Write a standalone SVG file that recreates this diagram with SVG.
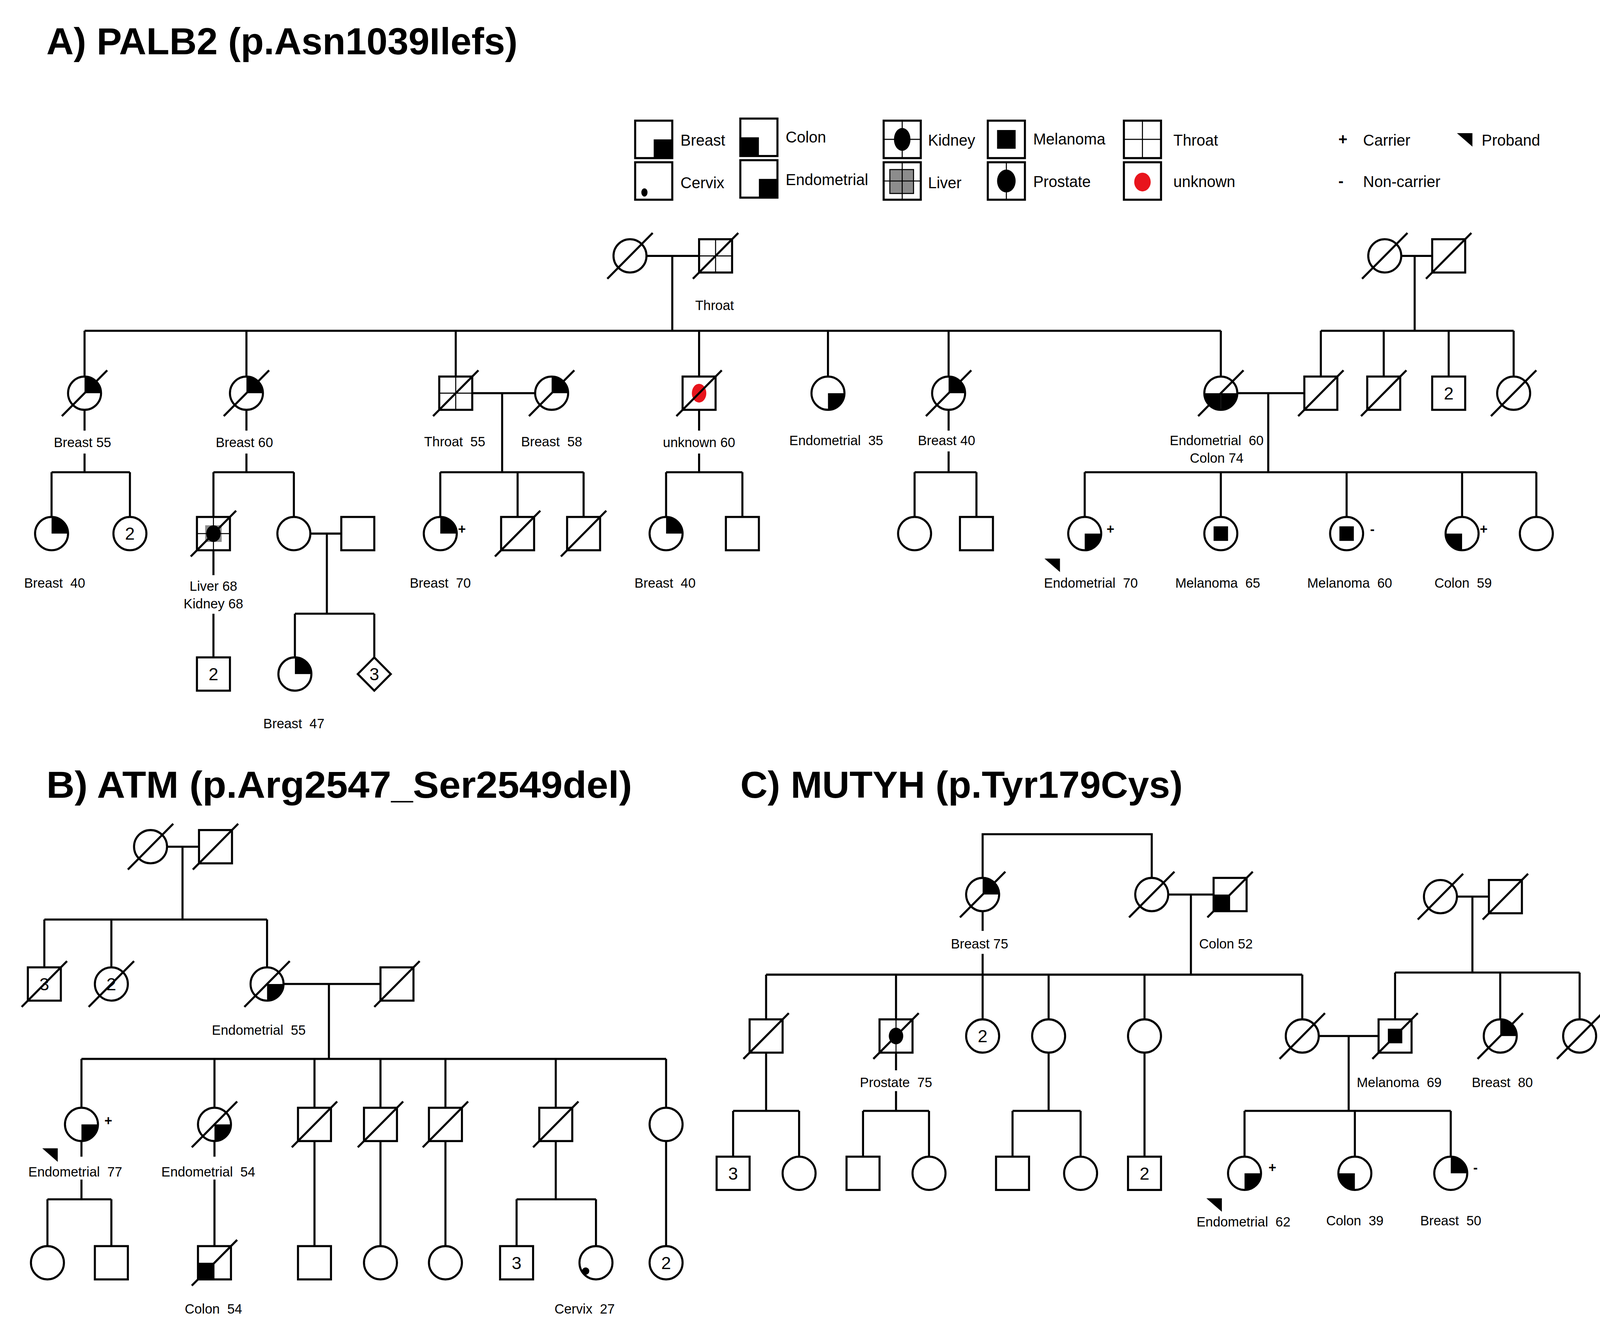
<svg xmlns="http://www.w3.org/2000/svg" xmlns:xlink="http://www.w3.org/1999/xlink" width="4131" height="3383" viewBox="0 0 4131 3383">
<style>
.t{font-family:"Liberation Sans",Arial,sans-serif;font-size:13px;fill:#000;text-anchor:middle;white-space:pre}
.lg{font-family:"Liberation Sans",Arial,sans-serif;font-size:15px;fill:#000}
.n{font-family:"Liberation Sans",Arial,sans-serif;font-size:17px;fill:#000;text-anchor:middle}
.h{font-family:"Liberation Sans",Arial,sans-serif;font-size:36px;font-weight:bold;fill:#000}
.sym{fill:#fff;stroke:#000;stroke-width:2}
.ln{fill:none;stroke:#000;stroke-width:2}
.th{fill:none;stroke:#000;stroke-width:1}
</style>
<defs>
<circle id="c" r="16" class="sym"/>
<rect id="s" x="-16" y="-16" width="32" height="32" class="sym"/>
<line id="d" x1="-22" y1="22" x2="22" y2="-22" stroke="#000" stroke-width="2"/>
<path id="cUR" d="M0 0V-16A16 16 0 0 1 16 0Z"/>
<path id="cLR" d="M0 0H16A16 16 0 0 1 0 16Z"/>
<path id="cLL" d="M0 0V16A16 16 0 0 1 -16 0Z"/>
<rect id="sLL" x="-16" y="0" width="16" height="16"/>
<path id="cr" d="M0 -16V16M-16 0H16" class="th"/>
<rect id="mel" x="-7" y="-7" width="14" height="14"/>
<polygon id="pb" points="0,0 15,0 15,13"/>
</defs>
<rect width="4131" height="3383" fill="#fff"/>
<g transform="scale(2.6396,2.6638)">
<text class="h" x="45" y="52" textLength="457" lengthAdjust="spacingAndGlyphs">A) PALB2 (p.Asn1039Ilefs)</text>
<text class="h" x="45" y="767" textLength="568" lengthAdjust="spacingAndGlyphs">B) ATM (p.Arg2547_Ser2549del)</text>
<text class="h" x="718" y="767" textLength="429" lengthAdjust="spacingAndGlyphs">C) MUTYH (p.Tyr179Cys)</text>

<g id="legend">
<rect x="616" y="116" width="36" height="36" class="sym"/><rect x="634" y="134" width="18" height="18"/><text class="lg" x="660" y="140">Breast</text>
<rect x="718" y="114" width="36" height="36" class="sym"/><rect x="718" y="132" width="18" height="18"/><text class="lg" x="762" y="137">Colon</text>
<rect x="616" y="156" width="36" height="36" class="sym"/><ellipse cx="625" cy="185" rx="3" ry="4"/><text class="lg" x="660" y="181">Cervix</text>
<rect x="718" y="154" width="36" height="36" class="sym"/><rect x="736" y="172" width="18" height="18"/><text class="lg" x="762" y="178">Endometrial</text>
<rect x="857" y="116" width="36" height="36" class="sym"/><path d="M875 116V152M857 134H893" class="th"/><ellipse cx="875" cy="134" rx="8" ry="11"/><text class="lg" x="900" y="140">Kidney</text>
<rect x="857" y="156" width="36" height="36" class="sym"/><rect x="863" y="163" width="23" height="23" fill="#8c8c8c" stroke="#000" stroke-width="1"/><path d="M875 156V192M857 174H893" class="th"/><text class="lg" x="900" y="181">Liver</text>
<rect x="958" y="116" width="36" height="36" class="sym"/><rect x="967" y="125" width="18" height="18"/><text class="lg" x="1002" y="139">Melanoma</text>
<rect x="958" y="156" width="36" height="36" class="sym"/><path d="M976 156V192" class="th"/><ellipse cx="976" cy="174" rx="9" ry="11"/><text class="lg" x="1002" y="180">Prostate</text>
<rect x="1090" y="116" width="36" height="36" class="sym"/><path d="M1108 116V152M1090 134H1126" class="th"/><text class="lg" x="1138" y="140">Throat</text>
<rect x="1090" y="156" width="36" height="36" class="sym"/><ellipse cx="1108" cy="175" rx="8" ry="9" fill="#e8141c"/><text class="lg" x="1138" y="180">unknown</text>
<text class="lg" x="1298" y="139" font-weight="bold">+</text><text class="lg" x="1322" y="140">Carrier</text>
<text class="lg" x="1298" y="179" font-weight="bold">-</text><text class="lg" x="1322" y="180">Non-carrier</text>
<use href="#pb" x="1413" y="128"/><text class="lg" x="1437" y="140">Proband</text>
</g>

<g id="connectors" class="ln">
<path d="M627 246H678M652 246V318M82 318H1184M82 318V362M239 318V362M442 318V362M678 318V362M803 318V362M920 318V362M1184 318V362
M458 378H519M487 378V454M427 454H566M427 454V497M502 454V497M566 454V497
M82 394V414M82 436V454M50 454H126M50 454V497M126 454V497
M239 394V414M239 436V454M207 454H285M207 454V497M285 454V497
M207 529V553M207 590V632M301 513H331M317 513V590M286 590H363M286 590V632M363 590V632
M678 394V414M678 436V454M646 454H720M646 454V497M720 454V497
M920 394V414M920 434V454M887 454H947M887 454V497M947 454V497
M1200 378H1265M1230 378V454M1052 454H1490M1052 454V497M1184 454V497M1306 454V497M1418 454V497M1490 454V497
M1359 246H1389M1372 246V318M1281 318H1468M1281 318V362M1342 318V362M1405 318V362M1468 318V362
M162 814H193M177 814V884M43 884H259M43 884V930M108 884V930M259 884V930
M275 946H369M319 946V1018M79 1018H646M79 1018V1065M208 1018V1065M305 1018V1065M369 1018V1065M432 1018V1065M539 1018V1065M646 1018V1065
M79 1097V1112M79 1134V1153M46 1153H108M46 1153V1198M108 1153V1198
M208 1097V1112M208 1134V1198M305 1097V1198M369 1097V1198M432 1097V1198
M539 1097V1153M501 1153H578M501 1153V1198M578 1153V1198M646 1097V1198
M953 844V802H1117V844M953 876V895M953 917V937M1133 860H1177M1155 860V937M743 937H1263M743 937V980M869 937V980M953 937V980M1017 937V980M1110 937V980M1263 937V980
M743 1012V1068M711 1068H775M711 1068V1112M775 1068V1112
M869 1012V1029M869 1049V1068M837 1068H901M837 1068V1112M901 1068V1112
M1017 1012V1068M982 1068H1048M982 1068V1112M1048 1068V1112M1110 1012V1112
M1279 996H1337M1308 996V1068M1207 1068H1407M1207 1068V1112M1314 1068V1112M1407 1068V1112
M1413 862H1444M1428 862V935M1353 935H1532M1353 935V980M1455 935V980M1532 935V980"/>
</g>

<g id="A-I1"><use href="#c" x="611" y="246"/><use href="#d" x="611" y="246"/></g>
<g id="A-I2"><use href="#s" x="694" y="246"/><use href="#cr" x="694" y="246"/><use href="#d" x="694" y="246"/><text class="t" x="693" y="298">Throat</text></g>
<g id="A-II1"><use href="#c" x="82" y="378"/><use href="#cUR" x="82" y="378"/><use href="#d" x="82" y="378"/><text class="t" x="80" y="430">Breast 55</text></g>
<g id="A-II2"><use href="#c" x="239" y="378"/><use href="#cUR" x="239" y="378"/><use href="#d" x="239" y="378"/><text class="t" x="237" y="430">Breast 60</text></g>
<g id="A-II3"><use href="#s" x="442" y="378"/><use href="#cr" x="442" y="378"/><use href="#d" x="442" y="378"/><text class="t" x="441" y="429">Throat  55</text></g>
<g id="A-II3s"><use href="#c" x="535" y="378"/><use href="#cUR" x="535" y="378"/><use href="#d" x="535" y="378"/><text class="t" x="535" y="429">Breast  58</text></g>
<g id="A-II4"><use href="#s" x="678" y="378"/><ellipse cx="678" cy="378" rx="7" ry="9" fill="#e8141c"/><use href="#d" x="678" y="378"/><text class="t" x="678" y="430">unknown 60</text></g>
<g id="A-II5"><use href="#c" x="803" y="378"/><use href="#cLR" x="803" y="378"/><text class="t" x="811" y="428">Endometrial  35</text></g>
<g id="A-II6"><use href="#c" x="920" y="378"/><use href="#cUR" x="920" y="378"/><use href="#d" x="920" y="378"/><text class="t" x="918" y="428">Breast 40</text></g>
<g id="A-II7"><use href="#c" x="1184" y="378"/><use href="#cLR" x="1184" y="378"/><use href="#cLL" x="1184" y="378"/><use href="#d" x="1184" y="378"/><text class="t" x="1180" y="428">Endometrial  60</text><text class="t" x="1180" y="445">Colon 74</text></g>
<g id="A-R1"><use href="#c" x="1343" y="246"/><use href="#d" x="1343" y="246"/></g>
<g id="A-R2"><use href="#s" x="1405" y="246"/><use href="#d" x="1405" y="246"/></g>
<g id="A-II8"><use href="#s" x="1281" y="378"/><use href="#d" x="1281" y="378"/></g>
<g id="A-II9"><use href="#s" x="1342" y="378"/><use href="#d" x="1342" y="378"/></g>
<g id="A-II10"><use href="#s" x="1405" y="378"/><text class="n" x="1405" y="384">2</text></g>
<g id="A-II11"><use href="#c" x="1468" y="378"/><use href="#d" x="1468" y="378"/></g>

<g id="A-III1"><use href="#c" x="50" y="513"/><use href="#cUR" x="50" y="513"/><text class="t" x="53" y="565">Breast  40</text></g>
<g id="A-III2"><use href="#c" x="126" y="513"/><text class="n" x="126" y="519">2</text></g>
<g id="A-III3"><use href="#s" x="207" y="513"/><rect x="199" y="505" width="16" height="16" fill="#8c8c8c"/><use href="#cr" x="207" y="513"/><ellipse cx="207" cy="513" rx="7" ry="8"/><use href="#d" x="207" y="513"/><text class="t" x="207" y="568">Liver 68</text><text class="t" x="207" y="585">Kidney 68</text></g>
<g id="A-III4"><use href="#c" x="285" y="513"/></g>
<g id="A-III4s"><use href="#s" x="347" y="513"/></g>
<g id="A-III5"><use href="#c" x="427" y="513"/><use href="#cUR" x="427" y="513"/><text class="t" x="448" y="513" font-weight="bold">+</text><text class="t" x="427" y="565">Breast  70</text></g>
<g id="A-III6"><use href="#s" x="502" y="513"/><use href="#d" x="502" y="513"/></g>
<g id="A-III7"><use href="#s" x="566" y="513"/><use href="#d" x="566" y="513"/></g>
<g id="A-III8"><use href="#c" x="646" y="513"/><use href="#cUR" x="646" y="513"/><text class="t" x="645" y="565">Breast  40</text></g>
<g id="A-III9"><use href="#s" x="720" y="513"/></g>
<g id="A-III10"><use href="#c" x="887" y="513"/></g>
<g id="A-III11"><use href="#s" x="947" y="513"/></g>
<g id="A-III12"><use href="#c" x="1052" y="513"/><use href="#cLR" x="1052" y="513"/><text class="t" x="1077" y="513" font-weight="bold">+</text><use href="#pb" x="1013" y="537"/><text class="t" x="1058" y="565">Endometrial  70</text></g>
<g id="A-III13"><use href="#c" x="1184" y="513"/><use href="#mel" x="1184" y="513"/><text class="t" x="1181" y="565">Melanoma  65</text></g>
<g id="A-III14"><use href="#c" x="1306" y="513"/><use href="#mel" x="1306" y="513"/><text class="t" x="1331" y="513" font-weight="bold">-</text><text class="t" x="1309" y="565">Melanoma  60</text></g>
<g id="A-III15"><use href="#c" x="1418" y="513"/><use href="#cLL" x="1418" y="513"/><text class="t" x="1439" y="513" font-weight="bold">+</text><text class="t" x="1419" y="565">Colon  59</text></g>
<g id="A-III16"><use href="#c" x="1490" y="513"/></g>
<g id="A-IV1"><use href="#s" x="207" y="648"/><text class="n" x="207" y="654">2</text></g>
<g id="A-IV2"><use href="#c" x="286" y="648"/><use href="#cUR" x="286" y="648"/><text class="t" x="285" y="700">Breast  47</text></g>
<g id="A-IV3"><polygon points="363,632 379,648 363,664 347,648" class="sym" stroke-width="1.5"/><text class="n" x="363" y="654">3</text></g>

<g id="B-I1"><use href="#c" x="146" y="814"/><use href="#d" x="146" y="814"/></g>
<g id="B-I2"><use href="#s" x="209" y="814"/><use href="#d" x="209" y="814"/></g>
<g id="B-II1"><use href="#s" x="43" y="946"/><text class="n" x="43" y="952">3</text><use href="#d" x="43" y="946"/></g>
<g id="B-II2"><use href="#c" x="108" y="946"/><text class="n" x="108" y="952">2</text><use href="#d" x="108" y="946"/></g>
<g id="B-II3"><use href="#c" x="259" y="946"/><use href="#cLR" x="259" y="946"/><use href="#d" x="259" y="946"/><text class="t" x="251" y="995">Endometrial  55</text></g>
<g id="B-II4"><use href="#s" x="385" y="946"/><use href="#d" x="385" y="946"/></g>
<g id="B-III1"><use href="#c" x="79" y="1081"/><use href="#cLR" x="79" y="1081"/><text class="t" x="105" y="1082" font-weight="bold">+</text><use href="#pb" x="41" y="1104"/><text class="t" x="73" y="1131">Endometrial  77</text></g>
<g id="B-III2"><use href="#c" x="208" y="1081"/><use href="#cLR" x="208" y="1081"/><use href="#d" x="208" y="1081"/><text class="t" x="202" y="1131">Endometrial  54</text></g>
<g id="B-III3"><use href="#s" x="305" y="1081"/><use href="#d" x="305" y="1081"/></g>
<g id="B-III4"><use href="#s" x="369" y="1081"/><use href="#d" x="369" y="1081"/></g>
<g id="B-III5"><use href="#s" x="432" y="1081"/><use href="#d" x="432" y="1081"/></g>
<g id="B-III6"><use href="#s" x="539" y="1081"/><use href="#d" x="539" y="1081"/></g>
<g id="B-III7"><use href="#c" x="646" y="1081"/></g>
<g id="B-IV1"><use href="#c" x="46" y="1214"/></g>
<g id="B-IV2"><use href="#s" x="108" y="1214"/></g>
<g id="B-IV3"><use href="#s" x="208" y="1214"/><use href="#sLL" x="208" y="1214"/><use href="#d" x="208" y="1214"/><text class="t" x="207" y="1263">Colon  54</text></g>
<g id="B-IV4"><use href="#s" x="305" y="1214"/></g>
<g id="B-IV5"><use href="#c" x="369" y="1214"/></g>
<g id="B-IV6"><use href="#c" x="432" y="1214"/></g>
<g id="B-IV7"><use href="#s" x="501" y="1214"/><text class="n" x="501" y="1220">3</text></g>
<g id="B-IV8"><use href="#c" x="578" y="1214"/><circle cx="568" cy="1222" r="3.5"/><text class="t" x="567" y="1263">Cervix  27</text></g>
<g id="B-IV9"><use href="#c" x="646" y="1214"/><text class="n" x="646" y="1220">2</text></g>

<g id="C-I1"><use href="#c" x="953" y="860"/><use href="#cUR" x="953" y="860"/><use href="#d" x="953" y="860"/><text class="t" x="950" y="912">Breast 75</text></g>
<g id="C-I2"><use href="#c" x="1117" y="860"/><use href="#d" x="1117" y="860"/></g>
<g id="C-I3"><use href="#s" x="1193" y="860"/><use href="#sLL" x="1193" y="860"/><use href="#d" x="1193" y="860"/><text class="t" x="1189" y="912">Colon 52</text></g>
<g id="C-R1"><use href="#c" x="1397" y="862"/><use href="#d" x="1397" y="862"/></g>
<g id="C-R2"><use href="#s" x="1460" y="862"/><use href="#d" x="1460" y="862"/></g>
<g id="C-II1"><use href="#s" x="743" y="996"/><use href="#d" x="743" y="996"/></g>
<g id="C-II2"><use href="#s" x="869" y="996"/><path d="M869 980V1012" class="th"/><ellipse cx="869" cy="996" rx="7" ry="8"/><use href="#d" x="869" y="996"/><text class="t" x="869" y="1045">Prostate  75</text></g>
<g id="C-II3"><use href="#c" x="953" y="996"/><text class="n" x="953" y="1002">2</text></g>
<g id="C-II4"><use href="#c" x="1017" y="996"/></g>
<g id="C-II5"><use href="#c" x="1110" y="996"/></g>
<g id="C-II6"><use href="#c" x="1263" y="996"/><use href="#d" x="1263" y="996"/></g>
<g id="C-II7"><use href="#s" x="1353" y="996"/><use href="#mel" x="1353" y="996"/><use href="#d" x="1353" y="996"/><text class="t" x="1357" y="1045">Melanoma  69</text></g>
<g id="C-II8"><use href="#c" x="1455" y="996"/><use href="#cUR" x="1455" y="996"/><use href="#d" x="1455" y="996"/><text class="t" x="1457" y="1045">Breast  80</text></g>
<g id="C-II9"><use href="#c" x="1532" y="996"/><use href="#d" x="1532" y="996"/></g>
<g id="C-III1"><use href="#s" x="711" y="1128"/><text class="n" x="711" y="1134">3</text></g>
<g id="C-III2"><use href="#c" x="775" y="1128"/></g>
<g id="C-III3"><use href="#s" x="837" y="1128"/></g>
<g id="C-III4"><use href="#c" x="901" y="1128"/></g>
<g id="C-III5"><use href="#s" x="982" y="1128"/></g>
<g id="C-III6"><use href="#c" x="1048" y="1128"/></g>
<g id="C-III7"><use href="#s" x="1110" y="1128"/><text class="n" x="1110" y="1134">2</text></g>
<g id="C-III8"><use href="#c" x="1207" y="1128"/><use href="#cLR" x="1207" y="1128"/><text class="t" x="1234" y="1127" font-weight="bold">+</text><use href="#pb" x="1170" y="1152"/><text class="t" x="1206" y="1179">Endometrial  62</text></g>
<g id="C-III9"><use href="#c" x="1314" y="1128"/><use href="#cLL" x="1314" y="1128"/><text class="t" x="1314" y="1178">Colon  39</text></g>
<g id="C-III10"><use href="#c" x="1407" y="1128"/><use href="#cUR" x="1407" y="1128"/><text class="t" x="1431" y="1127" font-weight="bold">-</text><text class="t" x="1407" y="1178">Breast  50</text></g>
</g>
</svg>
